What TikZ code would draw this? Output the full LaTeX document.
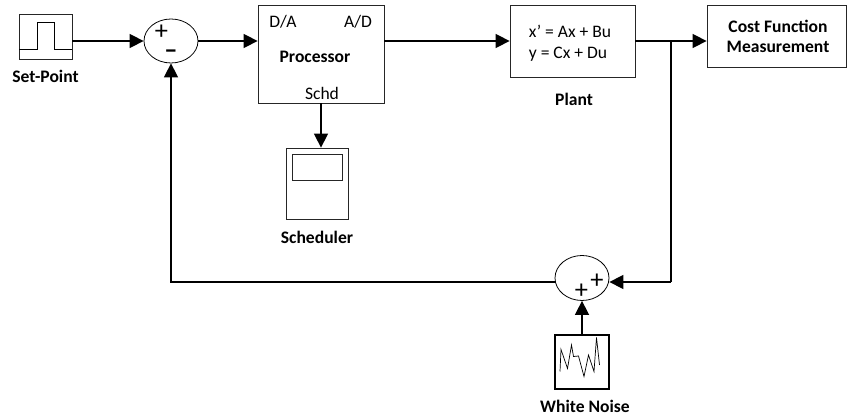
\documentclass[tikz,border=0pt]{standalone}
\usepackage{fontspec}
\setmainfont{Carlito}
\usetikzlibrary{positioning,calc,arrows,arrows.meta,shapes.geometric}
\tikzset{font=\fontsize{10pt}{12pt}\selectfont}
\tikzset{
	block/.style={draw=black!85, line width=0.45pt, inner sep=0pt},
	summer/.style={draw, ellipse, line width=0.45pt, inner sep=0pt, minimum width=1.08cm, minimum height=0.88cm},
	sig/.style={line width=0.85pt, -{Triangle[length=0.28cm, width=0.28cm]}},
	wire/.style={line width=0.85pt},
	boxlabel/.style={font=\fontsize{10pt}{11.4pt}\selectfont\bfseries, align=center, inner sep=1pt},
	signmark/.style={font=\fontsize{15pt}{15pt}\selectfont, inner sep=0pt}
}

\begin{document}
\begin{tikzpicture}
	\useasboundingbox (0, 0) rectangle (16.94, -8.38);
	\begin{scope}
		% blocks
		\node[block, minimum width=1.06cm, minimum height=0.9cm] (setpoint) at (0.91, -0.73) {};
		\node[summer] (sum1) at (3.42, -0.82) {};
		\node[block, minimum width=2.52cm, minimum height=1.96cm] (proc) at (6.42, -1.08) {};
		\node[block, minimum width=1.24cm, minimum height=1.42cm] (sched) at (6.34, -3.67) {};
		\node[block, minimum width=1.0cm, minimum height=0.52cm] (screen) at (6.34, -3.34) {};
		\node[block, minimum width=2.5cm, minimum height=1.44cm, align=left] (plant) at (11.45, -0.82) {};
		\node[block, minimum width=2.78cm, minimum height=1.24cm] (cost) at (15.53, -0.72) {};
		\node[summer, minimum height=0.9cm] (sum2) at (11.64, -5.56) {};
		\node[block, draw=black, line width=1.1pt, minimum width=1.08cm, minimum height=1.08cm] (noise) at (11.64, -7.24) {};

		% labels
		\node[boxlabel] (setlabel) at (0.91, -1.53) {Set-Point};
		\node[inner sep=1pt] (da) at (5.66, -0.44) {D/A};
		\node[inner sep=1pt] (ad) at (7.16, -0.44) {A/D};
		\node[boxlabel] (proclabel) at (6.3, -1.14) {Processor};
		\node[inner sep=1pt] (schd) at (6.44, -1.86) {Schd};
		\node[boxlabel] (schedlabel) at (6.34, -4.74) {Scheduler};
		\node[inner sep=1pt] (eq1) at (11.4, -0.62) {x’ = Ax + Bu};
		\node[inner sep=1pt] (eq2) at (11.36, -1.08) {y = Cx + Du};
		\node[boxlabel] (plantlabel) at (11.48, -1.98) {Plant};
		\node[boxlabel] (costlabel) at (15.56, -0.72) {Cost Function\\Measurement};
		\node[boxlabel] (noiselabel) at (11.7, -8.12) {White Noise};

		% signs
		\node[signmark] (p1) at (3.23, -0.64) {+};
		\node[signmark, font=\fontsize{15pt}{15pt}\selectfont\bfseries] (m1) at (3.42, -1.09) {--};
		\node[signmark] (p2) at (11.94, -5.62) {+};
		\node[signmark] (p3) at (11.63, -5.82) {+};

		% small plots
		\draw[line width=0.85pt] (0.38, -0.99) -- (0.75, -0.99) -- (0.75, -0.45) -- (1.09, -0.45) -- (1.09, -0.99) -- (1.44, -0.99);
		\draw[line width=0.4pt] (11.2, -7.43) -- (11.22, -6.99) -- (11.35, -7.37) -- (11.43, -6.9) -- (11.47, -7.13) -- (11.57, -7.12) -- (11.68, -7.53) -- (11.77, -7.1) -- (11.88, -7.43) -- (11.93, -6.75) -- (11.99, -7.3);

		% connectors
		\coordinate (tap) at (13.42, -0.82);
		\coordinate (back) at (13.42, -5.64);
		\draw[sig] (sum1.west -| setpoint.east) -- (sum1.west);
		\draw[sig] (sum1.east) -- (sum1.east -| proc.west);
		\draw[sig] (proc.east |- plant.west) -- (plant.west);
		\draw[sig] (plant.east) -- (plant.east -| cost.west);
		\draw[sig] (proc.south) -- (proc.south |- sched.north);
		\draw[wire] (tap) -- (back);
		\draw[sig] (back) -- (back -| sum2.east);
		\draw[sig] (back -| sum2.west) -- (back -| sum1.south) -- (sum1.south);
		\draw[sig] (noise.north) -- (sum2.south);
	\end{scope}
\end{tikzpicture}
\end{document}
